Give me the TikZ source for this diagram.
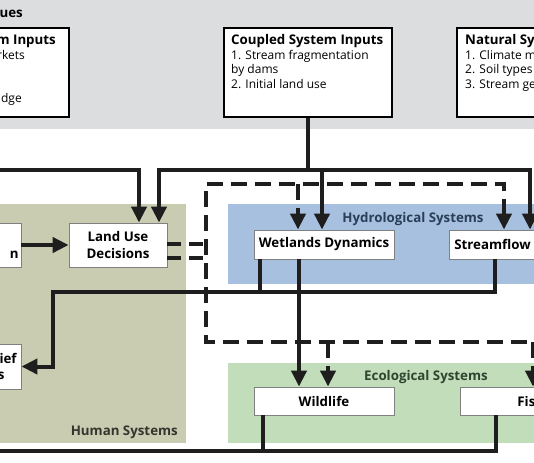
\documentclass[tikz,border=0pt]{standalone}
\usepackage{fontspec}
\setmainfont{Open Sans}
\usetikzlibrary{arrows.meta}
\definecolor{band}{HTML}{DCDDDF}
\definecolor{human}{HTML}{C9CCB1}
\definecolor{hydro}{HTML}{A7C0DF}
\definecolor{eco}{HTML}{C1DDBA}
\definecolor{ink}{HTML}{1E1E1E}
\definecolor{boxline}{HTML}{808080}
\definecolor{hydrotxt}{HTML}{2B3E58}
\definecolor{ecotxt}{HTML}{2E4530}
\definecolor{humtxt}{HTML}{353530}
\begin{document}
\begin{tikzpicture}[x=1pt,y=-1pt,
  conn/.style={line width=4pt, draw=ink},
  tip/.style={-{Triangle[length=16pt,width=15pt]}},
  stip/.style={{Triangle[length=16pt,width=15pt]}-},
  btip/.style={{Triangle[length=16pt,width=15pt]}-{Triangle[length=16pt,width=15pt]}},
  dline/.style={line width=4pt, draw=ink, dash pattern=on 16pt off 8pt},
  inbox/.style={draw=black, line width=1.3pt, fill=white, inner sep=0},
  sysbox/.style={draw=boxline, line width=0.8pt, fill=white, font=\bfseries\fontsize{13.3}{16.5}\selectfont, align=center, inner sep=0},
  bodytxt/.style={font=\fontsize{12}{14.5}\selectfont, anchor=base west, inner sep=0},
  headtxt/.style={font=\bfseries\fontsize{13.3}{16}\selectfont, anchor=base west, inner sep=0},
  lab/.style={font=\bfseries\fontsize{13.3}{16}\selectfont, anchor=base, inner sep=0}]
\useasboundingbox (0,0) rectangle (534,462);
\clip (0,0) rectangle (534,462);
% backgrounds
\fill[band] (-5,-5) rectangle (540,129);
\fill[human] (-5,204) rectangle (186,443);
\fill[hydro] (228,204) rectangle (540,284);
\fill[eco] (228,363) rectangle (540,443);
% title fragment
\node[headtxt, anchor=base east] (ttl) at (23,18) {ues};
% input boxes
\node[inbox, minimum width=89pt, minimum height=89pt] (hin) at (24.5,72.5) {};
\node[headtxt, anchor=base east] (hint) at (56,45) {m Inputs};
\node[bodytxt, anchor=base east] (hin1) at (25,59.5) {rkets};
\node[bodytxt, anchor=base east] (hin4) at (22,102.5) {dge};
\node[inbox, minimum width=168pt, minimum height=89pt] (coupled) at (308,72.5) {};
\node[headtxt] (cpt) at (231,45) {Coupled System Inputs};
\node[bodytxt] (cp1) at (231,59.5) {1. Stream fragmentation};
\node[bodytxt] (cp2) at (231,74) {by dams};
\node[bodytxt] (cp3) at (231,88.5) {2. Initial land use};
\node[inbox, minimum width=103pt, minimum height=89pt] (nat) at (508.5,72.5) {};
\node[headtxt] (natt) at (465,45) {Natural Sy};
\node[bodytxt] (nat1) at (465,59.5) {1. Climate m};
\node[bodytxt] (nat2) at (465,74) {2. Soil types};
\node[bodytxt] (nat3) at (465,88.5) {3. Stream ge};
% human systems
\node[sysbox, minimum width=40pt, minimum height=44pt] (hb1) at (1,245) {};
\node[sysbox, draw=none, fill=none, anchor=base east] (hb1t) at (19,258) {n};
\node[sysbox, minimum width=98pt, minimum height=44pt] (lud) at (118,245) {Land Use\\Decisions};
\node[sysbox, minimum width=40pt, minimum height=45pt] (bel) at (1,366.5) {};
\node[sysbox, draw=none, fill=none, anchor=base east] (belt1) at (17,363) {ief};
\node[sysbox, draw=none, fill=none, anchor=base east] (belt2) at (5,379) {s};
\node[lab, anchor=base east, text=humtxt] (humlab) at (178,435) {Human Systems};
% hydrological systems
\node[lab, text=hydrotxt] (hydlab) at (413,222) {Hydrological Systems};
\node[sysbox, minimum width=140pt, minimum height=29pt] (wet) at (324,244.5) {Wetlands Dynamics};
\node[sysbox, minimum width=87pt, minimum height=29pt] (stf) at (492.5,244.5) {Streamflow};
% ecological systems
\node[lab, text=ecotxt] (ecolab) at (426,380) {Ecological Systems};
\node[sysbox, minimum width=140pt, minimum height=28pt] (wil) at (324,401) {Wildlife};
\node[sysbox, minimum width=140pt, minimum height=28pt] (fish) at (530,401) {};
\node[sysbox, draw=none, fill=none, anchor=base west] (fisht) at (517,406) {Fis};
% solid connectors
\coordinate (jc) at (308,170);
\coordinate (jL) at (159,170);
\coordinate (jW) at (322,170);
\coordinate (jS) at (530,170);
\draw[conn] (coupled.south) -- (jc);
\draw[conn, btip] (jL |- lud.north) -- (jL) -- (jS) -- (jS |- stf.north);
\draw[conn, tip] (jW) -- (jW |- wet.north);
\coordinate (hL) at (-5,170);
\coordinate (lu1) at (139,170);
\draw[conn, tip] (hL) -- (lu1) -- (lu1 |- lud.north);
\draw[conn, tip] (hb1.east) -- (lud.west);
\coordinate (s1) at (495,292);
\coordinate (b1) at (53,292);
\draw[conn, tip] (s1 |- stf.south) -- (s1) -- (b1) -- (b1 |- bel.east) -- (bel.east);
\coordinate (w1) at (260,292);
\draw[conn] (w1 |- wet.south) -- (w1);
\coordinate (w2) at (299,259);
\draw[conn, tip] (w2 |- wet.south) -- (w2 |- wil.north);
\coordinate (f1) at (496,451);
\coordinate (l1) at (-5,451);
\coordinate (wl) at (263,451);
\draw[conn] (f1 |- fish.south) -- (f1) -- (l1);
\draw[conn] (wl |- wil.south) -- (wl);
% dashed connectors
\coordinate (dTL) at (206,184);
\coordinate (dBL) at (206,342);
\coordinate (dTR) at (504,184);
\coordinate (dBR) at (545,342);
\draw[dline, stip] (dTR |- stf.north) -- (dTR) -- (dTL) -- (dBL) -- (dBR);
\coordinate (dW) at (298,184);
\draw[dline, tip] (dW) -- (dW |- wet.north);
\coordinate (dWl) at (328,342);
\draw[dline, tip] (dWl) -- (dWl |- wil.north);
\coordinate (dF) at (533,342);
\draw[dline, tip] (dF) -- (dF |- fish.north);
\coordinate (d1) at (206,244);
\coordinate (d2) at (206,258);
\draw[dline, dash pattern=on 14pt off 8pt] (d1 -| lud.east) -- (d1);
\draw[dline, dash pattern=on 14pt off 8pt] (d2 -| lud.east) -- (d2);
\end{tikzpicture}
\end{document}
